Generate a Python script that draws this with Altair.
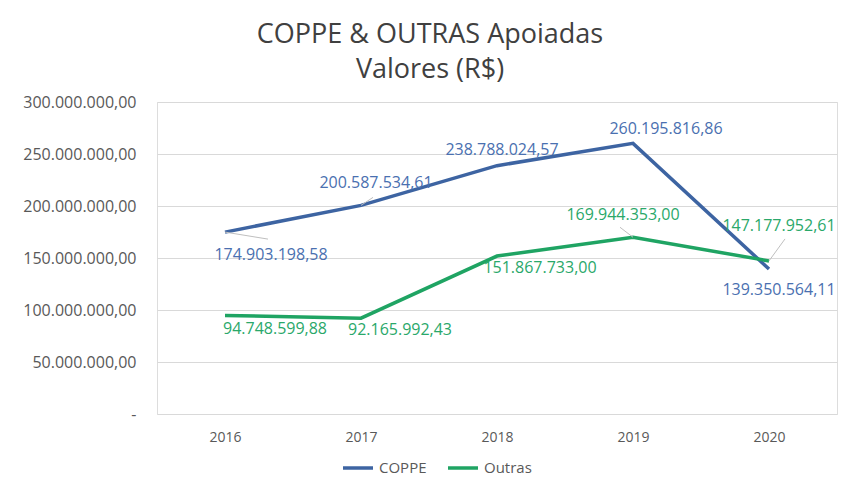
import altair as alt
import pandas as pd

anos = ["2016", "2017", "2018", "2019", "2020"]
coppe = [174903198.58, 200587534.61, 238788024.57, 260195816.86, 139350564.11]
outras = [94748599.88, 92165992.43, 151867733.00, 169944353.00, 147177952.61]
series = ["COPPE", "Outras"]

BLUE = "#3D64A2"
GREEN = "#1FA463"
BLUE_T = "#4A70B0"
GREEN_T = "#2AA86A"
FONT = "Open Sans"

rows = []
for s, vals in zip(series, [coppe, outras]):
    for a, v in zip(anos, vals):
        rows.append({"ano": a, "valor": v, "serie": s})
df = pd.DataFrame(rows)

x_enc = alt.X("ano:N", scale=alt.Scale(type="point", padding=0.5),
              axis=alt.Axis(title=None, labelAngle=0, ticks=False, domain=False,
                            labelFont=FONT, labelFontSize=14, labelColor="#595959",
                            labelPadding=16, grid=False))
y_enc = alt.Y("valor:Q", scale=alt.Scale(domain=[0, 300000000]),
              axis=alt.Axis(title=None, values=[0, 50000000, 100000000, 150000000,
                                                200000000, 250000000, 300000000],
                            format=",.2f",
                            labelExpr="datum.value == 0 ? '-' : datum.label",
                            ticks=False, domain=False, labelFont=FONT, labelFontSize=16,
                            labelColor="#595959", labelPadding=21,
                            gridColor="#d9d9d9", gridWidth=1))

base = alt.Chart(df)

lines = base.mark_line(strokeWidth=3.5).encode(
    x=x_enc, y=y_enc,
    color=alt.Color("serie:N", scale=alt.Scale(domain=series, range=[BLUE, GREEN]),
                    legend=alt.Legend(orient="none", legendX=184, legendY=349,
                                      title=None, direction="horizontal",
                                      symbolType="stroke", symbolSize=900,
                                      symbolStrokeWidth=3.5, labelFont=FONT,
                                      labelFontSize=15, labelColor="#595959",
                                      columnPadding=14, labelOffset=4)),
)

# label offsets (dx, dy) per series/year -- style only
offsets = {
    "COPPE": [(46, 23), (15, -22), (5, -16), (33, -14), (10, 21)],
    "Outras": [(50, 14), (39, 12), (43, 12), (-10, -22), (10, -35)],
}
leaders = {
    ("COPPE", "2016"): (43, 7),
    ("COPPE", "2017"): (12, -8),
    ("Outras", "2019"): (-13, -10),
    ("Outras", "2020"): (16, -22),
}

layers = [lines]
for s, col in zip(series, [BLUE_T, GREEN_T]):
    for i, a in enumerate(anos):
        dx, dy = offsets[s][i]
        sub = base.transform_filter((alt.datum.serie == s) & (alt.datum.ano == a))
        if (s, a) in leaders:
            lx, ly = leaders[(s, a)]
            layers.append(sub.mark_rule(color="#bfbfbf", strokeWidth=1,
                                        x2Offset=lx, y2Offset=ly).encode(
                x="ano:N", y="valor:Q", x2="ano:N", y2="valor:Q"))
        layers.append(sub.mark_text(dx=dx, dy=dy, font=FONT, fontSize=16, color=col,
                                    baseline="middle", align="center").encode(
            x="ano:N", y="valor:Q", text=alt.Text("valor:Q", format=",.2f")))

chart = alt.layer(*layers).properties(
    width=680, height=312,
    autosize=alt.AutoSizeParams(type="none"),
    padding={"left": 149, "top": 94, "right": 1, "bottom": 64},
    title=alt.TitleParams(["COPPE & OUTRAS Apoiadas", "Valores (R$)"], font=FONT,
                          fontSize=27, fontWeight="normal", color="#404040",
                          anchor="middle", frame="group", dx=-67, lineHeight=35,
                          offset=10),
).configure_view(stroke=None).configure(
    locale=alt.Locale(number=alt.NumberLocale(decimal=",", thousands=".", grouping=[3],
                                              currency=["R$", ""]))
)

chart.save("out.html", embed_options={"renderer": "svg", "actions": False})
